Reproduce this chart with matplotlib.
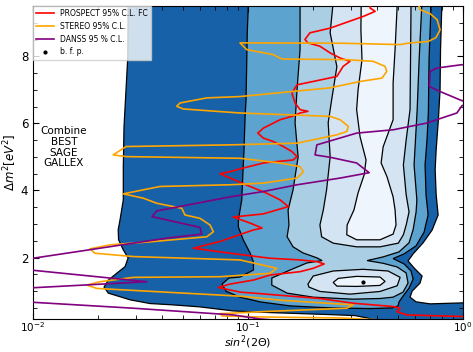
import matplotlib
matplotlib.use("Agg")
import matplotlib.pyplot as plt
from matplotlib.lines import Line2D
from matplotlib.ticker import MultipleLocator, LogLocator

nan = float("nan")

# --- Combined BEST + SAGE + GALLEX allowed regions (sin^2 2theta, dm^2 [eV^2]) ---
# outermost confidence region
cl1_s2 = [0.0277, 0.0277, 0.0276, 0.0265, 0.0263, 0.0263, 0.0254, 0.0249, 0.0250, 0.0263,
          0.0277, 0.0268, 0.0246, 0.0224, 0.0214, 0.0224, 0.0283, 0.0350, 0.0448, 0.0598,
          0.0852, 0.1266, 0.1746, 0.2407, 0.3147, 0.358, 0.411, 1.2, 1.2, 1.0,
          0.703, 0.605, 0.567, 0.580, 0.631, 0.645, 0.592, 0.555, 0.586, 0.652,
          0.718, 0.766, 0.750, 0.742, 0.750, 0.768, 0.782, 0.786, 0.797, 0.797]
cl1_dm2 = [10.0, 9.51, 7.99, 5.90, 4.70, 3.72, 3.13, 2.83, 2.53, 2.23,
           1.99, 1.73, 1.54, 1.33, 1.12, 0.94, 0.74, 0.63, 0.59, 0.53,
           0.41, 0.36, 0.33, 0.30, 0.27, 0.20, 0.08, 0.08, 0.65, 0.65,
           0.62, 0.68, 0.82, 1.00, 1.24, 1.45, 1.69, 1.90, 2.11, 2.44,
           2.82, 3.27, 3.87, 4.62, 5.21, 6.11, 7.00, 8.20, 9.51, 10.0]

cl2_s2 = [0.1003, 0.1003, 0.0992, 0.0979, 0.0969, 0.0958, 0.0945, 0.0935, 0.0902, 0.0902,
          0.0950, 0.1022, 0.1060, 0.1060, 0.0918, 0.0816, 0.0757, 0.0790, 0.0918, 0.1137,
          0.1568, 0.2407, 0.3696, 0.468, 0.499, 0.504, 0.526, 0.561, 0.586, 0.573,
          0.532, 0.473, 0.532, 0.605, 0.659, 0.688, 0.673, 0.666, 0.680, 0.690,
          0.695, 0.710, 0.710]
cl2_dm2 = [10.0, 9.49, 8.70, 6.70, 6.20, 5.21, 4.41, 3.72, 3.12, 2.91,
           2.53, 2.14, 1.87, 1.63, 1.42, 1.39, 1.21, 1.00, 0.82, 0.68,
           0.56, 0.50, 0.48, 0.50, 0.56, 0.68, 0.85, 1.09, 1.36, 1.60,
           1.81, 1.97, 2.11, 2.35, 2.76, 3.27, 3.87, 4.76, 5.51, 6.32,
           7.90, 9.51, 10.0]

cl3_s2 = [0.1746, 0.1746, 0.1746, 0.169, 0.1655, 0.171, 0.162, 0.1536, 0.155, 0.152,
          0.162, 0.180, 0.2095, 0.221, 0.188, 0.157, 0.129, 0.129, 0.152, 0.201,
          0.308, 0.411, 0.473, 0.526, 0.555, 0.544, 0.494, 0.425, 0.358, 0.425,
          0.504, 0.561, 0.586, 0.605, 0.610, 0.592, 0.612, 0.625, 0.643, 0.643]
cl3_dm2 = [10.0, 9.51, 8.20, 7.00, 6.02, 5.00, 4.02, 3.42, 2.97, 2.62,
           2.32, 2.14, 1.99, 1.91, 1.84, 1.63, 1.39, 1.18, 0.94, 0.82,
           0.76, 0.78, 0.82, 0.97, 1.24, 1.54, 1.72, 1.83, 1.91, 2.02,
           2.17, 2.44, 2.83, 3.36, 3.72, 4.76, 6.41, 7.90, 9.51, 10.0]

cl4_upper_s2 = [0.248, 0.248, 0.241, 0.259, 0.245, 0.236, 0.241, 0.232, 0.224, 0.216,
                0.220, 0.249, 0.320, 0.411, 0.500, 0.528, 0.544, 0.561, 0.544, 0.528,
                0.544, 0.567, 0.570, 0.573, 0.573]
cl4_upper_dm2 = [10.0, 9.51, 8.70, 7.69, 6.71, 6.02, 5.00, 4.02, 3.42, 2.97,
                 2.62, 2.43, 2.32, 2.32, 2.43, 2.68, 2.97, 3.36, 3.87, 4.76,
                 5.51, 6.41, 7.90, 9.51, 10.0]

cl4_island_s2 = [0.190, 0.201, 0.249, 0.343, 0.448, 0.510, 0.494, 0.411, 0.298, 0.216, 0.192]
cl4_island_dm2 = [1.21, 1.45, 1.60, 1.65, 1.60, 1.41, 1.16, 0.99, 0.91, 0.99, 1.12]

cl5_upper_s2 = [0.336, 0.336, 0.335, 0.339, 0.325, 0.320, 0.332, 0.354, 0.347, 0.325,
                0.311, 0.289, 0.288, 0.320, 0.411, 0.473, 0.488, 0.483, 0.473, 0.443,
                0.416, 0.425, 0.473, 0.473, 0.483, 0.494, 0.494]
cl5_upper_dm2 = [10.0, 9.51, 8.79, 7.90, 7.00, 6.41, 5.60, 4.91, 4.47, 3.93,
                 3.42, 2.97, 2.68, 2.53, 2.53, 2.70, 2.97, 3.42, 3.81, 4.41,
                 4.82, 5.30, 6.11, 7.21, 8.20, 9.51, 10.0]

cl5_island_s2 = [0.249, 0.263, 0.320, 0.411, 0.434, 0.411, 0.320, 0.259]
cl5_island_dm2 = [1.26, 1.38, 1.44, 1.42, 1.29, 1.17, 1.14, 1.15]

bfp_s2, bfp_dm2 = 0.341, 1.27

# --- reactor exclusion contours ---
prospect_s2 = [0.377, 0.3696, 0.390, 0.344, 0.241, 0.194, 0.184, 0.190, 0.216, 0.241,
               0.268, 0.298, 0.277, 0.259, 0.201, 0.169, 0.160, 0.1655, 0.1746, 0.190,
               0.1746, 0.160, 0.141, 0.118, 0.111, 0.118, 0.131, 0.146, 0.160, 0.169,
               0.162, 0.118, 0.0951, 0.0825, 0.0741, 0.0825, 0.1022, 0.122, 0.141, 0.154,
               0.1174, 0.0852, 0.1022, 0.1162, 0.1055, 0.0741, 0.0557, 0.0825, 0.1266, 0.1746,
               0.209, 0.226, 0.201, 0.1746, 0.1266, 0.106, 0.0825, 0.0728, 0.0918, 0.106,
               0.216, 0.308, 0.474, 0.510, 0.492, 0.548, 1.04]
prospect_dm2 = [9.78, 9.44, 9.34, 9.19, 8.84, 8.70, 8.50, 8.40, 8.30, 8.10,
                7.95, 7.85, 7.70, 7.40, 7.25, 7.15, 6.90, 6.61, 6.41, 6.36,
                6.31, 6.21, 6.11, 5.86, 5.71, 5.56, 5.46, 5.31, 5.16, 5.01,
                4.91, 4.82, 4.67, 4.56, 4.50, 4.37, 4.12, 3.92, 3.72, 3.52,
                3.30, 3.21, 3.03, 2.88, 2.82, 2.48, 2.28, 2.13, 1.98, 1.93,
                1.88, 1.81, 1.68, 1.58, 1.48, 1.33, 1.21, 1.11, 0.97, 0.94,
                0.78, 0.64, 0.54, 0.49, 0.39, 0.29, 0.24]

stereo_s2 = [0.605, 0.631, 0.703, 0.758, 0.782, 0.749, 0.688, 0.567, 0.510, 0.268,
             0.0918, 0.0986, 0.131, 0.1435, 0.288, 0.382, 0.434, 0.442, 0.420, 0.332,
             0.241, 0.0918, 0.0643, 0.0483, 0.0466, 0.0500, 0.0918, 0.241, 0.268, 0.293,
             0.288, 0.259, 0.169, 0.0825, 0.0271, 0.0236, 0.0271, 0.0918, 0.141, 0.1746,
             0.181, 0.169, 0.118, 0.0825, 0.0390, 0.0263, 0.0326, 0.0376, 0.0492, 0.0509,
             0.0598, 0.0666, 0.0690, 0.0643, 0.0350, 0.0228, 0.0184, 0.0194, 0.0293, 0.0918,
             0.136, 0.1266, 0.0741, 0.0293, 0.0205, 0.0178, 0.0198, 0.0918, 0.141, 0.308,
             0.288, 0.118, 0.0825, 0.0741, 0.0757, 0.1137, 0.268, 0.510]
stereo_dm2 = [9.78, 9.39, 9.27, 9.09, 8.79, 8.56, 8.44, 8.40, 8.35, 8.39,
              8.40, 8.20, 8.05, 7.92, 7.90, 7.85, 7.70, 7.55, 7.35, 7.25,
              7.06, 6.80, 6.76, 6.61, 6.51, 6.43, 6.31, 6.21, 6.11, 5.91,
              5.76, 5.66, 5.41, 5.36, 5.31, 5.06, 5.01, 4.96, 4.82, 4.71,
              4.56, 4.37, 4.22, 4.17, 4.12, 3.90, 3.77, 3.62, 3.47, 3.27,
              3.17, 2.97, 2.77, 2.62, 2.47, 2.38, 2.26, 2.13, 2.03, 1.93,
              1.68, 1.53, 1.43, 1.41, 1.28, 1.18, 1.08, 0.85, 0.73, 0.59,
              0.49, 0.39, 0.34, 0.33, 0.26, 0.23, 0.20, 0.11]

danss_s2 = [1.078, 0.987, 0.755, 0.703, 0.697, 0.782, 0.969, 1.078, 0.990, 0.936,
            0.678, 0.474, 0.320, 0.209, 0.205, 0.241, 0.320, 0.366, 0.268, 0.169,
            0.118, 0.0825, 0.0376, 0.0358, 0.0598, 0.0609, 0.0419, 0.0205, 0.0100, 0.0087,
            nan, 0.0087, 0.0338, 0.0087,
            nan, 0.0087, 0.0293, 0.0855, 0.1137, 0.1746]
danss_dm2 = [7.72, 7.75, 7.65, 7.55, 7.10, 6.95, 6.70, 6.59, 6.53, 6.31,
             6.01, 5.81, 5.71, 5.36, 5.06, 4.99, 4.82, 4.53, 4.37, 4.17,
             3.97, 3.81, 3.39, 3.22, 2.90, 2.70, 2.58, 2.28, 1.98, 1.97,
             nan, 1.66, 1.28, 1.08,
             nan, 0.69, 0.49, 0.29, 0.17, 0.08]

region_colors = ["#1761a8", "#5da3d0", "#aacee4", "#d4e4f3", "#eef5fc"]

fig = plt.figure(figsize=(4.73, 3.52), dpi=100)
ax = fig.add_axes([0.0698, 0.0929, 0.9091, 0.8901])
ax.set_xscale("log")

regions = [
    (cl1_s2, cl1_dm2, region_colors[0]),
    (cl2_s2, cl2_dm2, region_colors[1]),
    (cl3_s2, cl3_dm2, region_colors[2]),
    (cl4_upper_s2, cl4_upper_dm2, region_colors[3]),
    (cl4_island_s2, cl4_island_dm2, region_colors[3]),
    (cl5_upper_s2, cl5_upper_dm2, region_colors[4]),
    (cl5_island_s2, cl5_island_dm2, region_colors[4]),
]
for i, (xs, ys, c) in enumerate(regions):
    ax.fill(xs, ys, facecolor=c, edgecolor="black", linewidth=0.9, zorder=1 + i * 0.01)

ax.plot(prospect_s2, prospect_dm2, color="red", lw=1.2, zorder=3)
ax.plot(stereo_s2, stereo_dm2, color="orange", lw=1.2, zorder=3)
ax.plot(danss_s2, danss_dm2, color="purple", lw=1.2, zorder=3)
ax.plot([bfp_s2], [bfp_dm2], "k.", ms=4, zorder=4)

ax.text(0.0139, 5.29, "Combine\nBEST\nSAGE\nGALLEX", ha="center", va="center",
        fontsize=7.5, linespacing=1.1)

ax.set_xlim(0.01, 1.0)
ax.set_ylim(0.16, 9.5)
ax.yaxis.set_major_locator(MultipleLocator(2))
ax.yaxis.set_minor_locator(MultipleLocator(0.5))
ax.xaxis.set_minor_locator(LogLocator(base=10, subs=range(2, 10)))
ax.tick_params(which="both", direction="in", top=True, right=True, labelsize=8.5)
ax.tick_params(axis="x", which="major", pad=1.0, labelsize=7.5)
ax.tick_params(which="major", length=4.5)
ax.tick_params(which="minor", length=3)
ax.set_xlabel(r"$sin^2(2\Theta)$", fontsize=8, va="bottom")
ax.xaxis.set_label_coords(0.5, -0.101)
ax.set_ylabel(r"$\Delta m^2 [eV^2]$", fontsize=8.5, labelpad=1)

handles = [
    Line2D([], [], color="red", lw=1.2),
    Line2D([], [], color="orange", lw=1.2),
    Line2D([], [], color="purple", lw=1.2),
    Line2D([], [], color="black", marker=".", ls="none", ms=4),
]
labels = ["PROSPECT 95% C.L. FC", "STEREO 95% C.L.", "DANSS 95 % C.L.", "b. f. p."]
leg = ax.legend(handles, labels, loc="upper left", fontsize=5.5, borderaxespad=0.0,
                handlelength=2.3, fancybox=False, framealpha=0.8, edgecolor="0.8")
leg.set_zorder(5)

fig.savefig("out.png", dpi=100)
